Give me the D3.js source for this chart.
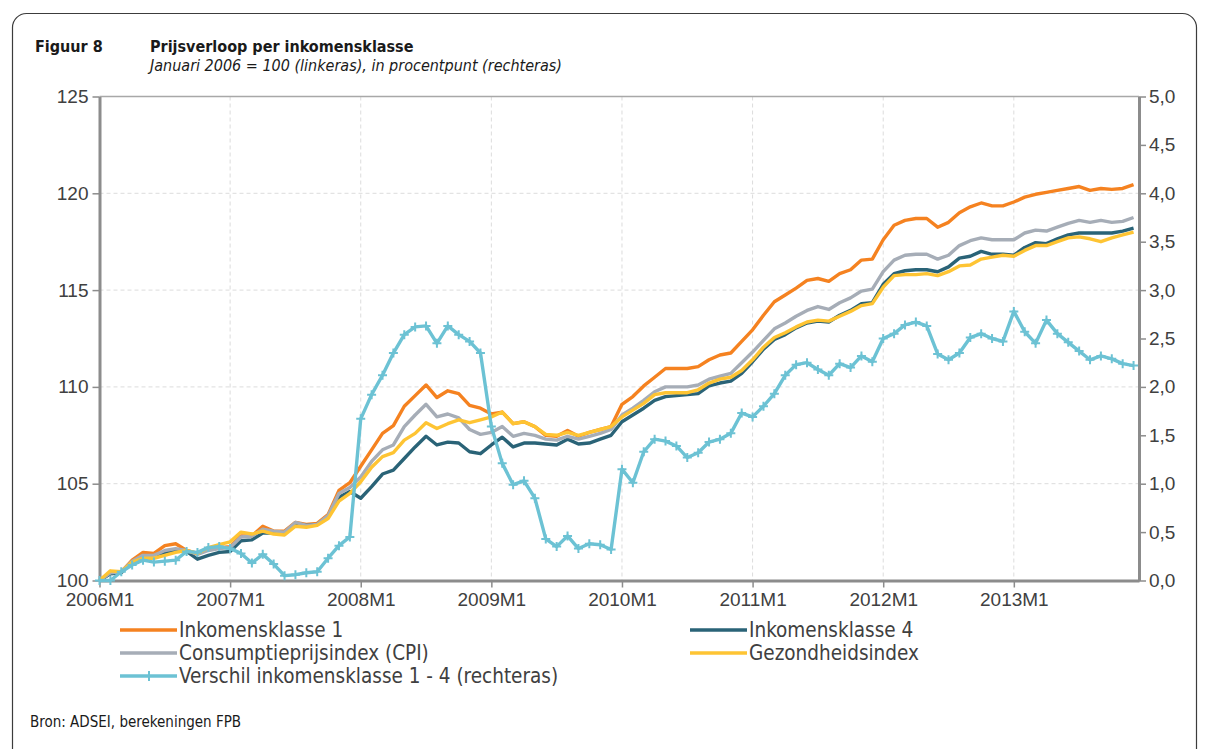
<!DOCTYPE html>
<html>
<head>
<meta charset="utf-8">
<script src="https://cdn.jsdelivr.net/npm/d3@7"></script>
<style>
  body { margin: 0; background: #fff; }
  svg { display: block; font-family: 'DejaVu Sans Condensed', 'DejaVu Sans', sans-serif; }
  .axis path, .axis line { stroke: #8c8c8c; }
  .axis text { fill: #404040; font-size: 19px; }
  .grid line { stroke: #dcdcdc; stroke-width: 1; stroke-dasharray: 4,3; }
  .legend-label { fill: #404040; font-size: 20.5px; }
</style>
</head>
<body>
<svg id="chart" width="1209" height="749"></svg>
<script>
'use strict';

// maanden 2006M1 .. 2013M12
var years = [2006, 2007, 2008, 2009, 2010, 2011, 2012, 2013];
var tickLabels = ['2006M1', '2007M1', '2008M1', '2009M1', '2010M1', '2011M1', '2012M1', '2013M1'];

var inkomensklasse1 = [
  100.0, 100.4, 100.45, 101.05, 101.45, 101.4, 101.8, 101.9, 101.55, 101.4, 101.6, 101.7,
  101.75, 102.3, 102.3, 102.8, 102.55, 102.55, 103.0, 102.9, 102.95, 103.4, 104.65, 105.05,
  105.9, 106.75, 107.6, 108.0, 109.0, 109.55, 110.1, 109.45, 109.8, 109.65, 109.05, 108.9,
  108.6, 108.7, 108.1, 108.2, 107.95, 107.5, 107.45, 107.75, 107.45, 107.65, 107.8, 107.95,
  109.1, 109.5, 110.05, 110.5, 110.95, 110.95, 110.95, 111.05, 111.4, 111.65, 111.75, 112.35,
  112.95, 113.7, 114.4, 114.75, 115.1, 115.5, 115.6, 115.45, 115.85, 116.05, 116.55, 116.6,
  117.6, 118.35, 118.6, 118.7, 118.7, 118.25, 118.5, 119.0, 119.3, 119.5, 119.35, 119.35,
  119.55, 119.8, 119.95, 120.05, 120.15, 120.25, 120.35, 120.15, 120.25, 120.2, 120.25, 120.45
];

var inkomensklasse4 = [
  100.0, 100.35, 100.4, 100.95, 101.2, 101.25, 101.45, 101.55, 101.5, 101.1, 101.3, 101.45,
  101.5, 102.05, 102.1, 102.45, 102.45, 102.45, 102.85, 102.85, 102.9, 103.3, 104.3, 104.6,
  104.25, 104.85, 105.5, 105.7, 106.3, 106.9, 107.45, 107.0, 107.15, 107.1, 106.65, 106.55,
  107.0, 107.4, 106.9, 107.1, 107.1, 107.05, 107.0, 107.3, 107.05, 107.1, 107.3, 107.5,
  108.2, 108.55, 108.9, 109.3, 109.5, 109.55, 109.6, 109.65, 110.05, 110.2, 110.3, 110.7,
  111.3, 111.95, 112.45, 112.7, 113.05, 113.3, 113.4, 113.35, 113.7, 113.95, 114.3, 114.35,
  115.3, 115.85, 116.0, 116.05, 116.05, 115.95, 116.2, 116.65, 116.75, 117.0, 116.85, 116.85,
  116.8, 117.2, 117.45, 117.4, 117.65, 117.85, 117.95, 117.95, 117.95, 117.95, 118.05, 118.2
];

var cpi = [
  100.0, 100.4, 100.45, 101.0, 101.3, 101.3, 101.55, 101.65, 101.55, 101.35, 101.55, 101.65,
  101.7, 102.25, 102.3, 102.65, 102.55, 102.5, 103.0, 102.85, 102.9, 103.35, 104.5, 104.8,
  105.35, 106.15, 106.75, 107.0, 107.95, 108.55, 109.1, 108.45, 108.6, 108.4, 107.8, 107.55,
  107.65, 107.95, 107.45, 107.6, 107.5, 107.3, 107.25, 107.45, 107.3, 107.45, 107.6, 107.8,
  108.55, 108.9, 109.3, 109.75, 110.0, 110.0, 110.0, 110.1, 110.4, 110.55, 110.7, 111.25,
  111.8, 112.4, 113.0, 113.3, 113.65, 113.95, 114.15, 114.0, 114.35, 114.6, 114.95, 115.05,
  115.95, 116.55, 116.8, 116.85, 116.85, 116.6, 116.8, 117.3, 117.55, 117.7, 117.6, 117.6,
  117.6, 117.95, 118.1, 118.05, 118.25, 118.45, 118.6, 118.5, 118.6, 118.5, 118.55, 118.75
];

var gezondheidsindex = [
  100.0, 100.5, 100.45, 100.95, 101.15, 101.15, 101.3, 101.45, 101.55, 101.4, 101.7, 101.85,
  102.0, 102.5, 102.4, 102.55, 102.4, 102.35, 102.8, 102.75, 102.85, 103.2, 104.1, 104.5,
  105.1, 105.85, 106.4, 106.6, 107.25, 107.6, 108.15, 107.85, 108.1, 108.3, 108.15, 108.3,
  108.45, 108.7, 108.1, 108.2, 107.95, 107.55, 107.5, 107.65, 107.5, 107.65, 107.8, 107.95,
  108.45, 108.8, 109.15, 109.6, 109.7, 109.7, 109.7, 109.85, 110.2, 110.4, 110.5, 110.85,
  111.4, 112.05, 112.55, 112.8, 113.1, 113.35, 113.45, 113.4, 113.65, 113.9, 114.2, 114.3,
  115.15, 115.75, 115.8, 115.8, 115.85, 115.75, 115.95, 116.25, 116.3, 116.6, 116.7, 116.8,
  116.75, 117.05, 117.3, 117.3, 117.5, 117.7, 117.75, 117.65, 117.5, 117.7, 117.85, 118.0
];

// rechteras, procentpunt
var verschil = [
  0.00, 0.00, 0.09, 0.16, 0.21, 0.19, 0.20, 0.21, 0.30, 0.29, 0.34, 0.35,
  0.33, 0.28, 0.18, 0.27, 0.17, 0.05, 0.06, 0.08, 0.09, 0.23, 0.36, 0.45,
  1.67, 1.92, 2.12, 2.35, 2.54, 2.62, 2.63, 2.45, 2.63, 2.54, 2.47, 2.35,
  1.59, 1.21, 0.99, 1.03, 0.85, 0.43, 0.35, 0.46, 0.33, 0.38, 0.37, 0.32,
  1.15, 1.01, 1.33, 1.46, 1.44, 1.39, 1.27, 1.32, 1.43, 1.46, 1.52, 1.73,
  1.69, 1.80, 1.93, 2.12, 2.23, 2.25, 2.18, 2.12, 2.24, 2.20, 2.32, 2.26,
  2.50, 2.55, 2.64, 2.67, 2.63, 2.34, 2.28, 2.35, 2.51, 2.55, 2.50, 2.47,
  2.78, 2.57, 2.45, 2.69, 2.55, 2.46, 2.37, 2.28, 2.32, 2.29, 2.24, 2.22
];

var leftTicks = [100, 105, 110, 115, 120, 125];
var rightTicks = [0, 0.5, 1, 1.5, 2, 2.5, 3, 3.5, 4, 4.5, 5];

var COLORS = {
  ink1: '#f58220',
  ink4: '#2a6377',
  cpi: '#a6adb7',
  gez: '#fec433',
  diff: '#6cc2d4'
};

var months = [];
years.forEach(function(y) {
  for (var m = 1; m <= 12; m++) { months.push(y + 'M' + m); }
});

var PLOT = { left: 99.5, right: 1139, top: 96.5, bottom: 580.5 };

var svg = d3.select('#chart');

// kader
svg.append('rect')
  .attr('x', 12.5).attr('y', 13.5)
  .attr('width', 1184).attr('height', 780)
  .attr('rx', 14)
  .attr('fill', '#fff')
  .attr('stroke', '#3c3c3c')
  .attr('stroke-width', 1.2);

svg.append('text')
  .attr('x', 35).attr('y', 52)
  .attr('font-weight', 'bold').attr('font-size', 16).attr('fill', '#1a1a1a')
  .text('Figuur 8');
svg.append('text')
  .attr('x', 150).attr('y', 52)
  .attr('font-weight', 'bold').attr('font-size', 16).attr('fill', '#1a1a1a')
  .text('Prijsverloop per inkomensklasse');
svg.append('text')
  .attr('x', 150).attr('y', 71)
  .attr('font-style', 'italic').attr('font-size', 16).attr('fill', '#1a1a1a')
  .text('Januari 2006 = 100 (linkeras), in procentpunt (rechteras)');

var x = d3.scaleLinear()
  .domain([0, months.length - 0.5])
  .range([PLOT.left, PLOT.right]);

var yLeft = d3.scaleLinear()
  .domain([100, 125])
  .range([PLOT.bottom, PLOT.top]);

var yRight = d3.scaleLinear()
  .domain([0, 5])
  .range([PLOT.bottom, PLOT.top]);

var yearIdx = tickLabels.map(function(t) { return months.indexOf(t); });

// rasterlijnen
var grid = svg.append('g').attr('class', 'grid');
grid.selectAll('.h')
  .data(leftTicks.slice(1, -1))
  .enter().append('line')
  .attr('x1', PLOT.left).attr('x2', PLOT.right)
  .attr('y1', function(d) { return yLeft(d); })
  .attr('y2', function(d) { return yLeft(d); });
grid.selectAll('.v')
  .data(yearIdx.slice(1))
  .enter().append('line')
  .attr('y1', PLOT.top).attr('y2', PLOT.bottom)
  .attr('x1', function(d) { return x(d); })
  .attr('x2', function(d) { return x(d); });

svg.append('line')
  .attr('x1', PLOT.left).attr('x2', PLOT.right)
  .attr('y1', PLOT.top).attr('y2', PLOT.top)
  .attr('stroke', '#a8a8a8').attr('stroke-width', 1.5);

var comma = d3.formatLocale({ decimal: ',', thousands: '.', grouping: [3], currency: ['€', ''] }).format('.1f');

svg.append('g')
  .attr('class', 'axis')
  .attr('transform', 'translate(' + PLOT.left + ',0)')
  .call(d3.axisLeft(yLeft).tickValues(leftTicks).tickSize(7).tickSizeOuter(0).tickPadding(4))
  .call(function(g) {
    g.select('.domain').attr('stroke-width', 3);
    g.selectAll('.tick line').attr('stroke-width', 1.5);
  });

svg.append('g')
  .attr('class', 'axis')
  .attr('transform', 'translate(' + PLOT.right + ',0)')
  .call(d3.axisRight(yRight).tickValues(rightTicks).tickFormat(comma).tickSize(7).tickSizeOuter(0).tickPadding(3))
  .call(function(g) {
    g.select('.domain').attr('stroke-width', 3);
    g.selectAll('.tick line').attr('stroke-width', 1.5);
  });

svg.append('g')
  .attr('class', 'axis')
  .attr('transform', 'translate(0,' + PLOT.bottom + ')')
  .call(d3.axisBottom(x).tickValues(yearIdx).tickSize(7).tickSizeOuter(0).tickPadding(5)
    .tickFormat(function(d) { return months[d]; }))
  .call(function(g) {
    g.select('.domain').attr('stroke-width', 3);
    g.selectAll('.tick line').attr('stroke-width', 1.5);
  });

var series = [
  { name: 'Inkomensklasse 1', values: inkomensklasse1, color: COLORS.ink1, scale: yLeft },
  { name: 'Inkomensklasse 4', values: inkomensklasse4, color: COLORS.ink4, scale: yLeft },
  { name: 'Consumptieprijsindex (CPI)', values: cpi, color: COLORS.cpi, scale: yLeft },
  { name: 'Gezondheidsindex', values: gezondheidsindex, color: COLORS.gez, scale: yLeft },
  { name: 'Verschil inkomensklasse 1 - 4 (rechteras)', values: verschil, color: COLORS.diff, scale: yRight, marker: true }
];

var lines = svg.append('g');
series.forEach(function(s) {
  var line = d3.line()
    .x(function(d, i) { return x(i); })
    .y(function(d) { return s.scale(d); });

  lines.append('path')
    .datum(s.values)
    .attr('fill', 'none')
    .attr('stroke', s.color)
    .attr('stroke-width', 3.4)
    .attr('stroke-linejoin', 'round')
    .attr('d', line);

  if (s.marker) {
    lines.selectAll('.plus')
      .data(s.values)
      .enter().append('path')
      .attr('class', 'plus')
      .attr('transform', function(d, i) { return 'translate(' + x(i) + ',' + s.scale(d) + ')'; })
      .attr('d', 'M-4.5,0H4.5M0,-4.5V4.5')
      .attr('stroke', s.color)
      .attr('stroke-width', 2);
  }
});

// legenda
var legendPos = [
  { x: 120, y: 630 }, { x: 690, y: 630 },
  { x: 120, y: 653 }, { x: 690, y: 653 },
  { x: 120, y: 676 }
];

var legend = svg.selectAll('.legend')
  .data(series)
  .enter().append('g')
  .attr('class', 'legend')
  .attr('transform', function(d, i) { return 'translate(' + legendPos[i].x + ',' + legendPos[i].y + ')'; });

legend.append('line')
  .attr('x1', 0).attr('x2', 57)
  .attr('stroke', function(d) { return d.color; })
  .attr('stroke-width', 3.5);

legend.filter(function(d) { return d.marker; })
  .append('path')
  .attr('d', 'M24,0H34M29,-5V5')
  .attr('stroke', function(d) { return d.color; })
  .attr('stroke-width', 2);

legend.append('text')
  .attr('class', 'legend-label')
  .attr('x', 59)
  .attr('dy', '0.35em')
  .text(function(d) { return d.name; });

svg.append('text')
  .attr('x', 30).attr('y', 727)
  .attr('font-size', 15).attr('fill', '#1a1a1a')
  .text('Bron: ADSEI, berekeningen FPB');
</script>
</body>
</html>
